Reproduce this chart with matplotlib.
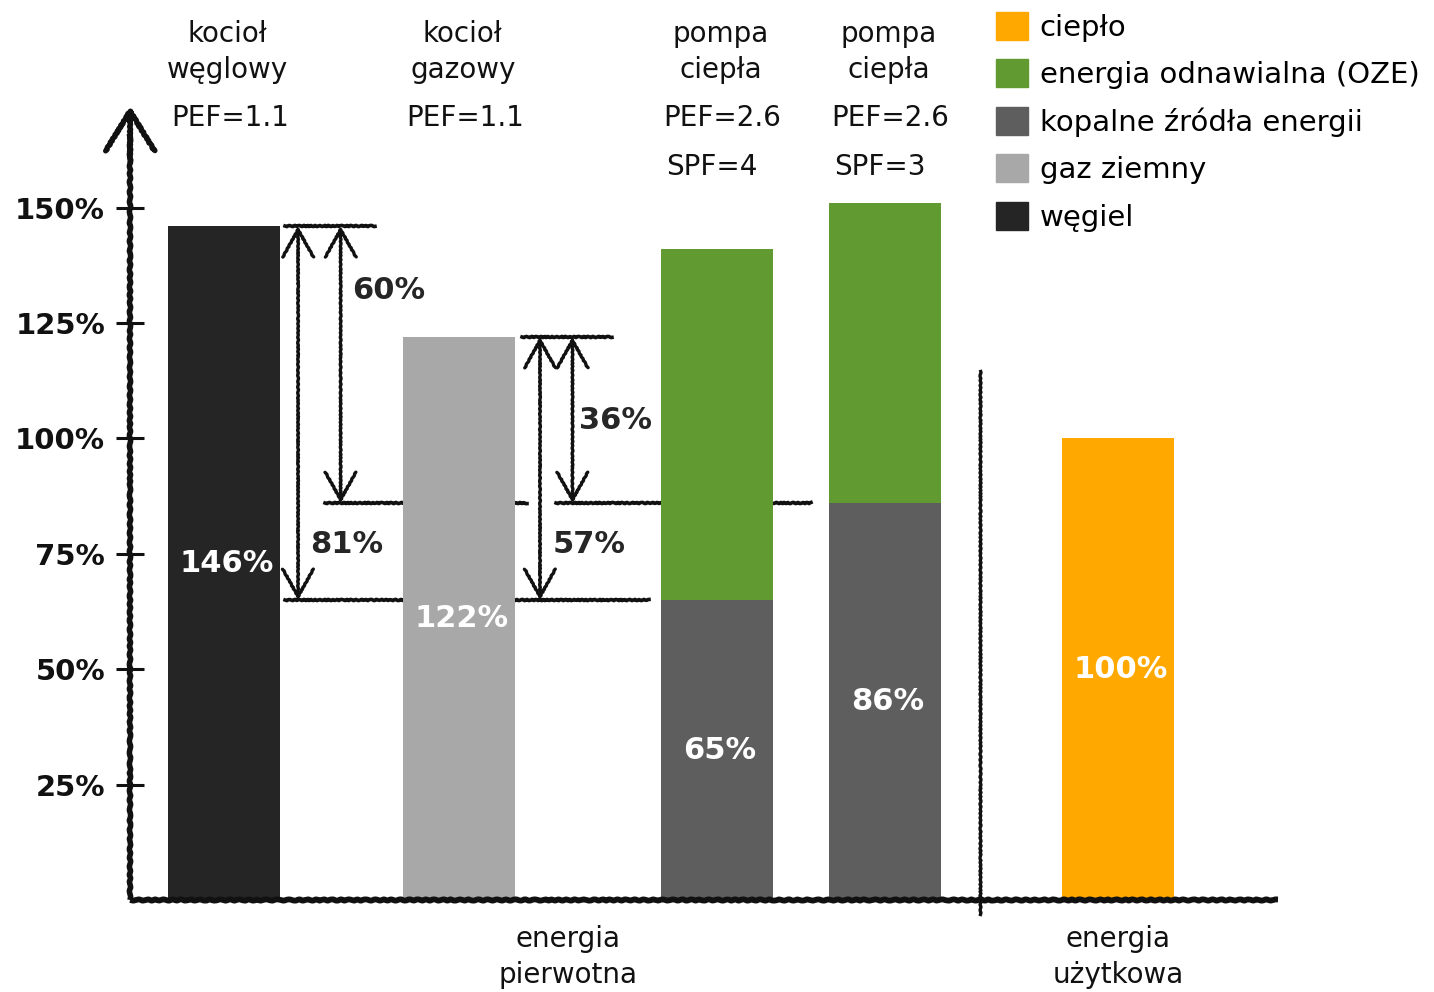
import matplotlib
matplotlib.use("Agg")
import matplotlib.pyplot as plt
from matplotlib.patches import Patch
from matplotlib import transforms

# dane
naglowki = ["kocioł\nwęglowy", "kocioł\ngazowy", "pompa\nciepła", "pompa\nciepła", ""]
pef = ["PEF=1.1", "PEF=1.1", "PEF=2.6", "PEF=2.6", ""]
spf = ["", "", "SPF=4", "SPF=3", ""]
wegiel = [146, 0, 0, 0, 0]
gaz = [0, 122, 0, 0, 0]
kopalne = [0, 0, 65, 86, 0]
oze = [0, 0, 76, 65, 0]
cieplo = [0, 0, 0, 0, 100]
roznice = [(146, 65, "81%"), (146, 86, "60%"), (122, 65, "57%"), (122, 86, "36%")]
yticks = [25, 50, 75, 100, 125, 150]

C_WEGIEL = "#252525"
C_GAZ = "#a8a8a8"
C_KOPALNE = "#5e5e5e"
C_OZE = "#629a32"
C_CIEPLO = "#ffa800"
INK = "#111111"

plt.rcParams["font.family"] = ["DejaVu Sans"]

fig = plt.figure(figsize=(14.34, 9.92), dpi=100)
ax = fig.add_axes([0.0907, 0.0927, 0.8006, 0.791])
ax.set_xlim(-0.84, 9.41)
ax.set_ylim(0, 170)

pos = [0, 2.1, 4.4, 5.9, 7.98]
w = 1.0

def szkic(artists, s=1.2, l=12, r=2):
    for a in artists:
        a.set_sketch_params(s, l, r)

ax.bar(pos[0], wegiel[0], w, color=C_WEGIEL, zorder=3)
ax.bar(pos[1], gaz[1], w, color=C_GAZ, zorder=3)
ax.bar(pos[2:4], kopalne[2:4], w, color=C_KOPALNE, zorder=3)
ax.bar(pos[2:4], oze[2:4], w, bottom=kopalne[2:4], color=C_OZE, zorder=3)
ax.bar(pos[4], cieplo[4], w, color=C_CIEPLO, zorder=3)

# wartosci na slupkach
etykiety = [(pos[0], wegiel[0]), (pos[1], gaz[1]), (pos[2], kopalne[2]),
            (pos[3], kopalne[3]), (pos[4], cieplo[4])]
for x, v in etykiety:
    ax.text(x + 0.02, v / 2, f"{v}%", color="white", fontsize=22, fontweight="bold",
            ha="center", va="center", zorder=5)

# linie pomocnicze i strzalki roznic
lin = []
lin += ax.plot([0.545, 1.35], [wegiel[0], wegiel[0]], color=INK, lw=2.6, zorder=2)
lin += ax.plot([0.545, 3.79], [kopalne[2], kopalne[2]], color=INK, lw=2.6, zorder=2)
lin += ax.plot([0.9, 2.7], [kopalne[3], kopalne[3]], color=INK, lw=2.6, zorder=2)
lin += ax.plot([2.96, 5.24], [kopalne[3], kopalne[3]], color=INK, lw=2.6, zorder=2)
lin += ax.plot([2.66, 3.46], [gaz[1], gaz[1]], color=INK, lw=2.6, zorder=2)
szkic(lin, 0.6, 5, 2)

strz_x = [0.66, 1.04, 2.82, 3.11]
tekst_xy = [(0.77, 77), (1.14, 132), (2.93, 77), (3.17, 104)]
for (g, d, lab), x, (tx, ty) in zip(roznice, strz_x, tekst_xy):
    a = ax.annotate("", xy=(x, d), xytext=(x, g),
                    arrowprops=dict(arrowstyle="<->,head_length=0.9,head_width=0.5",
                                    color=INK, lw=2.4, shrinkA=0, shrinkB=0,
                                    mutation_scale=22), zorder=2)
    a.arrow_patch.set_sketch_params(0.4, 5, 2)
    ax.text(tx, ty, lab, fontsize=22, fontweight="bold", color="#262626",
            ha="left", va="center", zorder=4)

# osie: spiny wylaczone, rysowane jako linie z efektem szkicu
for s in ["top", "right", "left", "bottom"]:
    ax.spines[s].set_visible(False)
osie = []
osie += ax.plot([-0.84, -0.84], [0, 166], color=INK, lw=4.0, clip_on=False, zorder=4,
                solid_capstyle="butt")
osie += ax.plot([-0.84, 9.41], [0, 0], color=INK, lw=4.2, clip_on=False, zorder=4,
                solid_capstyle="butt")
szkic(osie, 0.6, 10, 2)

grot = ax.annotate("", xy=(-0.84, 172), xytext=(-0.84, 160),
                   xycoords="data", annotation_clip=False,
                   arrowprops=dict(arrowstyle="->,head_length=1.3,head_width=0.8",
                                   color=INK, lw=3.8, shrinkA=0, shrinkB=0,
                                   mutation_scale=22))
grot.arrow_patch.set_sketch_params(0.6, 5, 2)

ax.set_yticks(yticks)
ax.set_yticklabels([f"{t}%" for t in yticks], fontsize=21, fontweight="bold", color=INK)
ax.tick_params(axis="y", direction="inout", length=20, width=2.2, pad=8, color=INK)
ax.set_xticks([])

# separator energia pierwotna / uzytkowa
sep = ax.plot([6.75, 6.75], [-3, 114.7], color=INK, lw=2.4, clip_on=False, zorder=2)
szkic(sep, 0.5, 5, 2)

# naglowki nad slupkami
tr = transforms.blended_transform_factory(ax.transData, fig.transFigure)
for x, n, p, s in zip(pos, naglowki, pef, spf):
    if n:
        ax.text(x + 0.03, 1 - 52 / 992, n, transform=tr, fontsize=20, ha="center",
                va="center", color=INK, linespacing=1.4)
    if p:
        ax.text(x + 0.05, 1 - 118 / 992, p, transform=tr, fontsize=20, ha="center",
                va="center", color=INK)
    if s:
        ax.text(x - 0.05, 1 - 167 / 992, s, transform=tr, fontsize=20, ha="center",
                va="center", color=INK)

ax.text(3.07, 1 - 957 / 992, "energia\npierwotna", transform=tr, fontsize=20,
        ha="center", va="center", color=INK, linespacing=1.4)
ax.text(pos[4], 1 - 957 / 992, "energia\nużytkowa", transform=tr, fontsize=20,
        ha="center", va="center", color=INK, linespacing=1.4)

# legenda
uchwyty = [Patch(color=C_CIEPLO, label="ciepło"),
           Patch(color=C_OZE, label="energia odnawialna (OZE)"),
           Patch(color=C_KOPALNE, label="kopalne źródła energii"),
           Patch(color=C_GAZ, label="gaz ziemny"),
           Patch(color=C_WEGIEL, label="węgiel")]
fig.legend(handles=uchwyty, loc="upper left", bbox_to_anchor=(996 / 1434, 1 - 12 / 992),
           frameon=False, fontsize=21, handlelength=1.1, handleheight=1.1,
           handletextpad=0.4, labelspacing=0.6, borderpad=0, borderaxespad=0)

fig.savefig("out.png", dpi=100, facecolor="white")
